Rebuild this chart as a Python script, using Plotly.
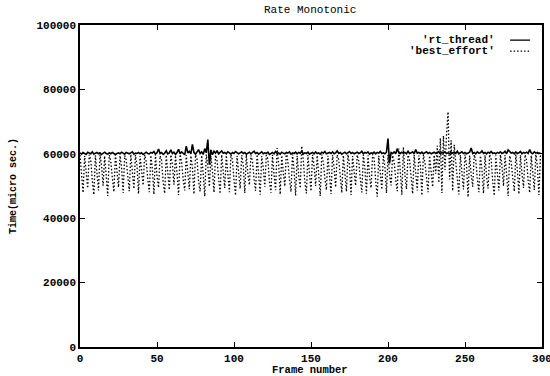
import plotly.graph_objects as go

title_text = "Rate Monotonic"
x_label = "Frame number"
y_label = "Time(micro sec.)"
series_names = ["'rt_thread'", "'best_effort'"]
x_ticks = [0, 50, 100, 150, 200, 250, 300]
y_ticks = [0, 20000, 40000, 60000, 80000, 100000]

frames = list(range(300))

rt_thread = [
    60300, 59900, 60400, 60100, 59800, 60500, 60200, 60000, 60600, 59900, 60200, 60400, 60000, 60300, 59800,
    60200, 60500, 60100, 59900, 60300, 60000, 60400, 60200, 59800, 60100, 60300, 60000, 60500, 60200, 59900,
    60400, 60100, 60000, 60300, 60600, 59900, 60200, 60100, 60400, 60000, 60300, 59800, 60200, 60500, 60100,
    60000, 60400, 60200, 60700, 59900, 60300, 61500, 60100, 60400, 59800, 60200, 60900, 60000, 60300, 61200,
    60100, 60500, 59800, 60400, 61400, 60000, 60600, 60200, 59700, 62400, 60300, 60800, 60000, 62900, 60400,
    59900, 60700, 61300, 60100, 60600, 59800, 61600, 60300, 64400, 56600, 61200, 59700, 60800, 60200, 61000,
    60000, 60500, 60900, 60200, 60400, 60000, 60600, 60300, 59900, 60400, 60100, 60700, 60200, 60000, 60300,
    60600, 60100, 60400, 59900, 60200, 60500, 60000, 60300, 60800, 60100, 60400, 59900, 60200, 60600, 60000,
    60300, 60100, 60500, 59800, 60200, 60400, 60000, 60700, 60100, 60300, 59900, 60500, 60200, 60000, 60400,
    60200, 60600, 59900, 60300, 60100, 60500, 60000, 60400, 60200, 60800, 60000, 60300, 60100, 60500, 59900,
    60200, 60400, 60000, 60600, 60100, 60300, 59900, 60500, 60200, 60700, 60000, 60300, 60400, 60100, 60600,
    60000, 60300, 60900, 60100, 60400, 59900, 60200, 60500, 60000, 60300, 60700, 60100, 60400, 60000, 60200,
    60500, 60100, 60300, 60800, 60000, 60400, 60200, 60600, 59900, 60300, 60100, 60500, 60000, 60400, 60200,
    60700, 60100, 60300, 60000, 60500, 64700, 57000, 60400, 60100, 60600, 60000, 61600, 60300, 60100, 60500,
    60200, 60400, 60000, 60800, 60100, 60300, 60600, 60000, 61300, 60200, 60400, 60100, 60500, 60000, 60300,
    60600, 60100, 60400, 60000, 60200, 60500, 60100, 60300, 60700, 60000, 60400, 60200, 60600, 60100, 60300,
    60000, 60500, 60200, 60400, 60100, 60800, 60000, 60300, 60600, 60100, 60400, 60000, 60300, 60500, 61800,
    60100, 60400, 60000, 60600, 60200, 60300, 60900, 60100, 60400, 60000, 60500, 60200, 60700, 60100, 60300,
    60000, 60400, 60200, 60600, 60100, 60300, 60800, 60000, 61200, 60500, 60200, 60400, 60000, 60600, 60100,
    60300, 60700, 60000, 60400, 60200, 60500, 60100, 61300, 60300, 60000, 60600, 60200, 60400, 60100, 60300,
]

best_effort = [
    59600, 52800, 47900, 59400, 55100, 49300, 59700, 58200, 51600, 47300, 59500, 54200, 48600, 59800, 56300,
    50100, 59300, 53400, 46900, 59600, 57800, 52500, 48200, 59700, 54800, 49600, 59400, 55900, 47800, 59500,
    58100, 51900, 48400, 59800, 53600, 49100, 59600, 56400, 47600, 59300, 54700, 50200, 59700, 57600, 52300,
    48100, 59500, 55200, 47400, 59800, 53100, 49500, 59400, 58000, 51200, 47700, 59600, 54500, 48800, 59700,
    56700, 50400, 59500, 53900, 47200, 59800, 57400, 52000, 48600, 59600, 54100, 49000, 59400, 55800, 47500,
    59700, 58300, 51500, 48300, 59500, 53700, 46800, 59800, 56100, 49800, 59300, 54600, 48000, 59600, 57900,
    52600, 47600, 59700, 55300, 49400, 59500, 53200, 48100, 59800, 58100, 51700, 47100, 59400, 54900, 49200,
    59600, 56500, 47800, 59700, 53800, 50300, 59500, 57700, 52200, 48500, 59800, 54400, 47300, 59300, 55600,
    49700, 59600, 58400, 51300, 47900, 59700, 53500, 48700, 61800, 56900, 47400, 59500, 54300, 49900, 60900,
    57500, 52100, 48200, 59800, 55000, 47000, 59400, 53300, 49300, 62400, 58000, 51400, 47700, 59600, 54800,
    48400, 59700, 56200, 50000, 59500, 53700, 46900, 59800, 57300, 52400, 48800, 59400, 54200, 47500, 59600,
    55700, 49600, 59700, 58200, 51800, 47900, 59500, 53900, 48300, 59800, 56600, 47200, 59300, 54500, 50100,
    59600, 57800, 52300, 48000, 59700, 55400, 47600, 59500, 53000, 49400, 59800, 58500, 51600, 46700, 59400,
    54700, 48900, 59600, 56000, 47800, 59700, 53600, 50200, 59500, 57600, 52000, 48400, 61600, 55100, 47300,
    62000, 53400, 49000, 59600, 58100, 51500, 47600, 59700, 54300, 48600, 59500, 56800, 47100, 59800, 57200,
    52700, 48100, 59400, 55500, 49700, 59600, 53800, 62500, 51000, 64800, 47800, 65600, 55000, 65900, 73000,
    52000, 64200, 48500, 62800, 57400, 51900, 47400, 59600, 54600, 48900, 59800, 56300, 46600, 59500, 53500,
    49800, 59700, 57900, 52200, 48100, 59400, 55200, 47700, 59600, 53100, 49200, 59800, 58300, 51400, 47000,
    59500, 54900, 48600, 59700, 56400, 50000, 59600, 53700, 46900, 59400, 57500, 52500, 48300, 59800, 55000,
    47500, 59600, 53900, 49400, 59700, 58000, 51700, 47900, 59500, 54400, 48800, 59800, 56100, 47200, 59600,
]

MONO = "Liberation Mono, Courier New, monospace"
DOTS = "1.5px,2px"

fig = go.Figure()
fig.add_trace(go.Scatter(x=frames, y=best_effort, mode="lines", name=series_names[1],
                         line=dict(color="black", width=1.3, dash=DOTS)))
fig.add_trace(go.Scatter(x=frames, y=rt_thread, mode="lines", name=series_names[0],
                         line=dict(color="black", width=1.6)))

axis_common = dict(showgrid=False, zeroline=False, showline=True, linecolor="black", linewidth=1.5,
                   mirror="ticks", ticks="inside", ticklen=5, tickwidth=1.2, tickcolor="black",
                   automargin=False, ticklabeloverflow="allow",
                   tickfont=dict(family=MONO, size=11, color="black", weight="bold"))

fig.update_layout(
    width=550, height=376,
    margin=dict(l=80, r=8, t=25, b=29, autoexpand=False),
    paper_bgcolor="white", plot_bgcolor="white",
    showlegend=False,
    xaxis=dict(range=[0, 300], tickvals=x_ticks, ticktext=[str(v) for v in x_ticks], **axis_common),
    yaxis=dict(range=[0, 100000], tickvals=y_ticks, ticktext=[str(v) for v in y_ticks], **axis_common),
)

# title and axis titles
fig.add_annotation(x=0.498, y=1.047, xref="paper", yref="paper", text=title_text, showarrow=False,
                   xanchor="center", yanchor="middle", font=dict(family=MONO, size=11, color="black"))
fig.add_annotation(x=0.498, y=-0.07, xref="paper", yref="paper", text=x_label, showarrow=False,
                   xanchor="center", yanchor="middle",
                   font=dict(family=MONO, size=10.5, color="black", weight="bold"))
fig.add_annotation(x=-0.145, y=0.5, xref="paper", yref="paper", text=y_label, showarrow=False,
                   textangle=-90, xanchor="center", yanchor="middle",
                   font=dict(family=MONO, size=10, color="black", weight="bold"))

# gnuplot-style key: text right-aligned, sample line to the right
legend_rows = [(0.953, "solid"), (0.919, DOTS)]
for (yp, dash), name in zip(legend_rows, series_names):
    fig.add_annotation(x=0.903, y=yp, xref="paper", yref="paper", text=name, showarrow=False,
                       xanchor="right", yanchor="middle",
                       font=dict(family=MONO, size=11, color="black", weight="bold"))
    fig.add_shape(type="line", xref="paper", yref="paper", x0=0.931, x1=0.974, y0=yp, y1=yp,
                  line=dict(color="black", width=1.3, dash=dash))

fig.write_html("out.html", config={"displayModeBar": False},
               post_script="document.body.style.margin='0';document.body.style.overflow='hidden';")
